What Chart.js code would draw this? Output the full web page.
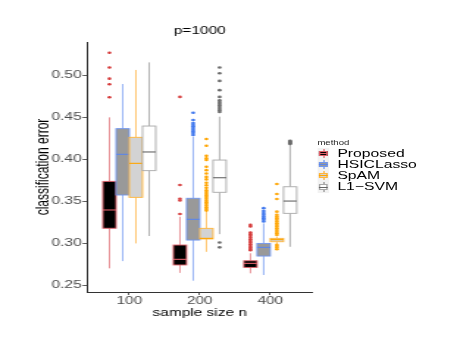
<!DOCTYPE html>
<html>
<head>
<meta charset="utf-8">
<script src="https://cdn.jsdelivr.net/npm/chart.js@4.4.1/dist/chart.umd.min.js"></script>
<style>
html, body { margin: 0; padding: 0; background: #fff; overflow: hidden; }
/* the reference is stretched sideways, so draw narrow and widen the whole block */
#wrap { position: relative; width: 311px; height: 346px; transform: scaleX(1.4695); transform-origin: 0 0;
        font-family: "Liberation Sans", Arial, Helvetica, sans-serif; }
#legend { position: absolute; left: 216px; top: 138px; }
#legend .ttl { font-size: 6.5px; color: #222; height: 9.5px; line-height: 9px; }
#legend .row { position: relative; height: 11.3px; line-height: 11px; font-size: 10.7px; color: #000; padding-left: 13.6px; white-space: nowrap; }
#legend .key { position: absolute; left: 0; top: 0; width: 8px; height: 11.3px; background: #f2f2f2; }
#legend .wh { position: absolute; left: 3.6px; width: 0.8px; top: 1px; bottom: 1px; }
#legend .bx { position: absolute; left: 1px; width: 6px; top: 3px; height: 5.3px; box-sizing: border-box; border: 0.8px solid; }
#legend .md { position: absolute; left: 1px; width: 6px; top: 5.3px; height: 0.8px; }
</style>
</head>
<body>
<div id="wrap">
  <canvas id="chart"></canvas>
  <div id="legend"></div>
</div>
<script>
const sampleSizes = ['100', '200', '400'];
const methods = ['Proposed', 'HSICLasso', 'SpAM', 'L1\u2212SVM'];
const yTicks = [0.25, 0.30, 0.35, 0.40, 0.45, 0.50];

// [lower whisker, Q1, median, Q3, upper whisker] for n = 100, 200, 400
const proposedStats = [
    [0.2704, 0.318, 0.3397, 0.3737, 0.4497],
    [0.265, 0.2744, 0.2811, 0.2981, 0.3317],
    [0.2645, 0.2715, 0.2763, 0.2794, 0.2883]
];
const hsicStats = [
    [0.279, 0.3575, 0.4058, 0.4363, 0.4893],
    [0.2557, 0.304, 0.3286, 0.3536, 0.4267],
    [0.2625, 0.285, 0.2953, 0.300, 0.3238]
];
const spamStats = [
    [0.300, 0.3547, 0.3951, 0.426, 0.506],
    [0.290, 0.3053, 0.306, 0.3179, 0.3377],
    [0.299, 0.302, 0.3045, 0.306, 0.308]
];
const l1Stats = [
    [0.3088, 0.3864, 0.4086, 0.4394, 0.515],
    [0.311, 0.3607, 0.378, 0.399, 0.4505],
    [0.296, 0.3357, 0.3503, 0.3673, 0.4169]
];

// outliers for n = 100, 200, 400
const proposedOutliers = [
    [0.4735, 0.489, 0.4957, 0.509, 0.5265],
    [0.335, 0.351, 0.353, 0.3694, 0.474],
    [0.292, 0.2935, 0.295, 0.297, 0.299, 0.301, 0.303, 0.305, 0.307, 0.309, 0.311, 0.313, 0.320, 0.322]
];
const hsicOutliers = [
    [],
    [0.4287, 0.431, 0.433, 0.435, 0.437, 0.439, 0.441, 0.443, 0.4466, 0.4552],
    [0.326, 0.328, 0.330, 0.332, 0.334, 0.336, 0.3385, 0.3419]
];
const spamOutliers = [
    [],
    [0.339, 0.341, 0.343, 0.345, 0.347, 0.349, 0.351, 0.353, 0.355, 0.357, 0.359, 0.361, 0.363, 0.366,
     0.369, 0.372, 0.376, 0.379, 0.383, 0.387, 0.391, 0.399, 0.401, 0.404, 0.416, 0.424],
    [0.293, 0.295, 0.297, 0.2985, 0.310, 0.312, 0.314, 0.316, 0.318, 0.320, 0.322, 0.324, 0.326, 0.328,
     0.330, 0.332, 0.334, 0.3377, 0.3527, 0.3587, 0.3705]
];
const l1Outliers = [
    [],
    [0.2953, 0.301, 0.456, 0.458, 0.460, 0.462, 0.464, 0.466, 0.468, 0.470, 0.474, 0.482, 0.493, 0.502, 0.509],
    [0.418, 0.419, 0.420, 0.421, 0.422]
];

const allStats = [proposedStats, hsicStats, spamStats, l1Stats];
const allOutliers = [proposedOutliers, hsicOutliers, spamOutliers, l1Outliers];

// --- look ---
const boxFills = ['#000000', '#999999', '#d3d3d3', '#ffffff'];
const boxBorders = ['#e0606a', '#6f95ee', '#ffb53a', '#a8a8a8'];
const medianColors = ['#e0606a', '#5b85ea', '#ffa500', '#666666'];
const whiskerColors = ['#e27a80', '#7fa2f2', '#ffb84d', '#a0a0a0'];
const dotColors = ['#d63a3a', '#3d76ee', '#ffa500', '#6a6a6a'];
const DODGE = [-0.28125, -0.09375, 0.09375, 0.28125];
const BOX_W = 0.1875;
const FONT = '"Liberation Sans", Arial, Helvetica, sans-serif';

const boxPlugin = {
    id: 'boxes',
    beforeDatasetsDraw(chart) {
        const { ctx, scales: { x, y } } = chart;
        const half = (x.getPixelForValue(BOX_W) - x.getPixelForValue(0)) / 2;
        allStats.forEach((stats, m) => {
            stats.forEach((s, i) => {
                const cx = x.getPixelForValue(i + 1 + DODGE[m]);
                const [lo, q1, med, q3, hi] = s.map(v => y.getPixelForValue(v));
                ctx.save();
                ctx.strokeStyle = whiskerColors[m];
                ctx.lineWidth = 0.8;
                ctx.beginPath();
                ctx.moveTo(cx, lo); ctx.lineTo(cx, q1);
                ctx.moveTo(cx, q3); ctx.lineTo(cx, hi);
                ctx.stroke();
                ctx.fillStyle = boxFills[m];
                ctx.fillRect(cx - half, q3, 2 * half, q1 - q3);
                ctx.strokeStyle = boxBorders[m];
                ctx.lineWidth = 0.9;
                ctx.strokeRect(cx - half, q3, 2 * half, q1 - q3);
                ctx.strokeStyle = medianColors[m];
                ctx.lineWidth = 1.1;
                ctx.beginPath();
                ctx.moveTo(cx - half, med); ctx.lineTo(cx + half, med);
                ctx.stroke();
                ctx.restore();
            });
        });
    }
};

const datasets = methods.map((name, m) => ({
    label: name,
    data: allOutliers[m].flatMap((vals, i) => vals.map(v => ({ x: i + 1 + DODGE[m], y: v }))),
    backgroundColor: dotColors[m],
    borderWidth: 0,
    pointRadius: 1.3,
    pointHoverRadius: 1.3
}));

new Chart(document.getElementById('chart'), {
    type: 'scatter',
    data: { datasets },
    options: {
        responsive: true,
        maintainAspectRatio: false,
        animation: false,
        events: [],
        layout: { padding: { left: 0, right: 98.3, top: 0, bottom: 0 } },
        plugins: {
            legend: { display: false },
            tooltip: { enabled: false },
            title: {
                display: true, text: 'p=1000', color: '#000', fullSize: false,
                font: { family: FONT, size: 10.5, weight: 'normal' },
                padding: { top: 24.7, bottom: 4.7 }
            }
        },
        scales: {
            x: {
                type: 'linear', min: 0.4, max: 3.6,
                afterBuildTicks: s => { s.ticks = sampleSizes.map((_, i) => ({ value: i + 1 })); },
                afterFit: s => { s.height = 54; },
                ticks: { callback: v => sampleSizes[v - 1], color: '#4d4d4d', padding: 0,
                         font: { family: FONT, size: 10.5 }, maxRotation: 0 },
                grid: { drawOnChartArea: false, color: '#333', tickLength: 3, tickWidth: 0.8 },
                border: { display: true, color: '#333', width: 1 },
                title: { display: true, text: 'sample size n', color: '#000',
                         font: { family: FONT, size: 10.5 }, padding: { top: 0, bottom: 27 } }
            },
            y: {
                min: 0.2423, max: 0.5392,
                afterBuildTicks: s => { s.ticks = yTicks.map(v => ({ value: v })); },
                afterFit: s => { s.width = 59.2; },
                ticks: { callback: v => v.toFixed(2), color: '#4d4d4d', padding: 0.5,
                         font: { family: FONT, size: 10.7 } },
                grid: { drawOnChartArea: false, color: '#333', tickLength: 3, tickWidth: 0.8 },
                border: { display: true, color: '#333', width: 1 },
                title: { display: true, text: 'classification error', color: '#000',
                         font: { family: FONT, size: 12 }, padding: { top: 22, bottom: 0 } }
            }
        }
    },
    plugins: [boxPlugin]
});

// legend keys look like little boxplots
const legend = document.getElementById('legend');
legend.innerHTML = '<div class="ttl">method</div>' + methods.map((name, m) => `
    <div class="row">
      <div class="key">
        <div class="wh" style="background:${whiskerColors[m]}"></div>
        <div class="bx" style="background:${boxFills[m]};border-color:${boxBorders[m]}"></div>
        <div class="md" style="background:${medianColors[m]}"></div>
      </div>${name}</div>`).join('');
</script>
</body>
</html>
